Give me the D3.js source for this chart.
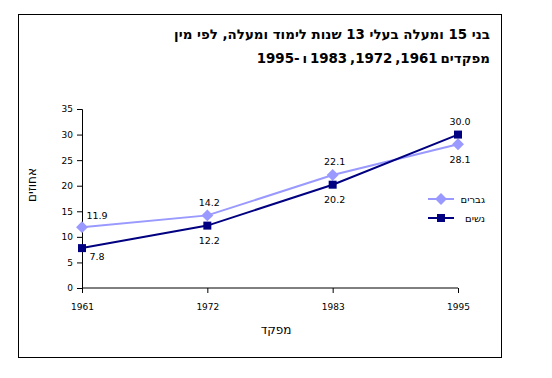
<!DOCTYPE html>
<html>
<head>
<meta charset="utf-8">
<script src="https://cdn.jsdelivr.net/npm/d3@7"></script>
<style>
  body { margin: 0; background: #fff; }
  text { font-family: "DejaVu Sans", sans-serif; }
</style>
</head>
<body>
<div id="chart"></div>
<script>
// chart data
const years = ["1961", "1972", "1983", "1995"];
const men = [11.9, 14.2, 22.1, 28.1];
const women = [7.8, 12.2, 20.2, 30.0];
const yTicks = [0, 5, 10, 15, 20, 25, 30, 35];
const titleLines = ["בני 15 ומעלה בעלי 13 שנות לימוד ומעלה, לפי מין", "מפקדים 1961, 1972, 1983 ו -1995"];

const width = 552, height = 378;

const svg = d3.select("#chart")
  .append("svg")
  .attr("width", width)
  .attr("height", height);

// outer frame
svg.append("rect")
  .attr("x", 18.5).attr("y", 14.5)
  .attr("width", 483).attr("height", 343)
  .attr("fill", "#fff")
  .attr("stroke", "#000")
  .attr("stroke-width", 1);

// title, right aligned
svg.selectAll(".title")
  .data(titleLines)
  .enter()
  .append("text")
  .attr("class", "title")
  .attr("x", 490)
  .attr("y", (d, i) => 39 + i * 24)
  .attr("direction", "rtl")
  .attr("text-anchor", "start")
  .attr("font-weight", "bold")
  .attr("font-size", 13.4)
  .attr("word-spacing", (d, i) => i === 1 ? -1.8 : 0)
  .text(d => d);

const x = d3.scalePoint()
  .domain(years)
  .range([82, 458]);

const y = d3.scaleLinear()
  .domain([0, 35])
  .range([288, 109]);

// y axis
svg.append("g")
  .attr("transform", "translate(82,0)")
  .call(d3.axisLeft(y).tickValues(yTicks).tickSize(5).tickPadding(4))
  .call(g => g.selectAll("text").attr("font-size", 9).attr("fill", "#000"))
  .call(g => g.select(".domain").attr("stroke", "#000"));

// x axis
svg.append("g")
  .attr("transform", "translate(0,288)")
  .call(d3.axisBottom(x).tickSize(5).tickPadding(11).tickSizeOuter(0))
  .call(g => g.selectAll("text").attr("font-size", 9).attr("fill", "#000"))
  .call(g => g.select(".domain").attr("d", "M82,0H458").attr("stroke", "#000"));

// axis titles
svg.append("text")
  .attr("x", 276).attr("y", 334)
  .attr("text-anchor", "middle")
  .attr("font-size", 12)
  .text("מפקד");

svg.append("text")
  .attr("transform", "translate(36,185) rotate(-90)")
  .attr("text-anchor", "middle")
  .attr("font-size", 12)
  .text("אחוזים");

const diamond = d3.symbolDiamond2 || d3.symbolDiamond;

const series = [
  { name: "גברים", values: men, color: "#9999ff", shape: diamond, size: 90 },
  { name: "נשים", values: women, color: "#000080", shape: d3.symbolSquare, size: 64 }
];

const line = d3.line()
  .x((d, i) => x(years[i]))
  .y(d => y(d));

series.forEach(s => {
  svg.append("path")
    .datum(s.values)
    .attr("d", line)
    .attr("fill", "none")
    .attr("stroke", s.color)
    .attr("stroke-width", 2);

  svg.selectAll(null)
    .data(s.values)
    .enter()
    .append("path")
    .attr("d", d3.symbol().type(s.shape).size(s.size))
    .attr("transform", (d, i) => `translate(${x(years[i])},${y(d)})`)
    .attr("fill", s.color);
});

// data labels: the higher value goes above, the lower below
series.forEach((s, si) => {
  const other = series[1 - si].values;
  svg.selectAll(null)
    .data(s.values)
    .enter()
    .append("text")
    .attr("x", (d, i) => x(years[i]) + (i === 0 ? 15 : 2))
    .attr("y", (d, i) => {
      const above = d >= other[i];
      if (i === 0) return y(d) + (above ? -12 : 8) + 3.5;
      return y(d) + (above ? -13 : 15) + 3.5;
    })
    .attr("text-anchor", "middle")
    .attr("font-size", 9.5)
    .text(d => d.toFixed(1));
});

// legend
const legend = svg.selectAll(".legend")
  .data(series)
  .enter()
  .append("g")
  .attr("class", "legend")
  .attr("transform", (d, i) => `translate(0,${199 + i * 19})`);

legend.append("line")
  .attr("x1", 428).attr("x2", 454)
  .attr("stroke", d => d.color)
  .attr("stroke-width", 2);

legend.append("path")
  .attr("d", d => d3.symbol().type(d.shape).size(d.size)())
  .attr("transform", "translate(441,0)")
  .attr("fill", d => d.color);

legend.append("text")
  .attr("x", 485).attr("y", 4)
  .attr("direction", "rtl")
  .attr("text-anchor", "start")
  .attr("font-size", 10)
  .text(d => d.name);
</script>
</body>
</html>
